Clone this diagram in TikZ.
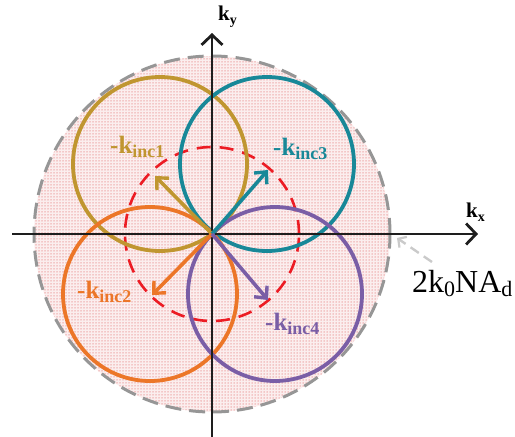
\documentclass[tikz,border=0pt]{standalone}
\usepackage{fontspec}
\setmainfont{Liberation Serif}
\usetikzlibrary{arrows.meta,patterns.meta}
\definecolor{cgold}{RGB}{192,150,48}
\definecolor{cteal}{RGB}{24,136,152}
\definecolor{corange}{RGB}{236,118,40}
\definecolor{cpurple}{RGB}{122,94,166}
\definecolor{cred}{RGB}{236,28,36}
\definecolor{cgray}{RGB}{150,150,150}
\definecolor{cfill}{RGB}{251,238,238}
\definecolor{cdot}{RGB}{236,160,160}
\definecolor{caxis}{RGB}{30,30,30}
\tikzset{
  ring/.style={line width=3.8pt},
  vec/.style={line width=3.6pt, -{Straight Barb[length=9pt,width=17pt,line width=3.4pt]}},
  axis/.style={line width=2.8pt, color=caxis, -{Straight Barb[length=10pt,width=21pt,line width=2.8pt]}},
  lbl/.style={font=\bfseries\fontsize{25}{25}\selectfont, inner sep=0pt, anchor=base west},
}
\newcommand{\sub}[1]{\raisebox{-4pt}{\fontsize{18}{18}\selectfont #1}}
\begin{document}
\begin{tikzpicture}[x=1pt,y=-1pt]
\useasboundingbox (0,0) rectangle (515,437);
\coordinate (O) at (212,234);
\fill[cfill] (O) circle[radius=178pt];
\fill[pattern={Dots[distance=3pt,radius=0.75pt]}, pattern color=cdot] (O) circle[radius=178pt];
\draw[cgray, line width=3pt, dash pattern=on 16pt off 8pt] (O) circle[radius=178pt];
\draw[cred, line width=2.6pt, dash pattern=on 14pt off 9pt] (O) circle[radius=87pt];
\draw[ring, cgold] (160,164) circle[radius=87pt];
\draw[ring, cteal] (267,164) circle[radius=87pt];
\draw[ring, corange] (150,294) circle[radius=87pt];
\draw[ring, cpurple] (275,294) circle[radius=87pt];
% axes
\coordinate (xl) at (12,234);
\coordinate (xr) at (478,234);
\coordinate (yb) at (212,437);
\coordinate (yt) at (212,33);
\draw[axis] (xl) -- (xr);
\draw[axis] (yb) -- (yt);
% vectors
\coordinate (t1) at (155,176);
\coordinate (t3) at (268,170);
\coordinate (t2) at (152,295);
\coordinate (t4) at (268,300);
\draw[vec, cgold] (O) -- (t1);
\draw[vec, cteal] (O) -- (t3);
\draw[vec, corange] (O) -- (t2);
\draw[vec, cpurple] (O) -- (t4);
% labels
\node[lbl, cgold] (l1) at (110,153) {-k\sub{inc1}};
\node[lbl, cteal] (l3) at (273,155) {-k\sub{inc3}};
\node[lbl, corange] (l2) at (77,298) {-k\sub{inc2}};
\node[lbl, cpurple] (l4) at (265,330) {-k\sub{inc4}};
\node[font=\bfseries\fontsize{21}{21}\selectfont, inner sep=0pt, anchor=base west] (kx) at (466,217) {k\raisebox{-4pt}{\fontsize{14}{14}\selectfont x}};
\node[font=\bfseries\fontsize{21}{21}\selectfont, inner sep=0pt, anchor=base west] (ky) at (218,20) {k\raisebox{-4pt}{\fontsize{14}{14}\selectfont y}};
\node[font=\fontsize{32}{32}\selectfont, inner sep=0pt, anchor=base west] (na) at (412,292) {2k\raisebox{-4pt}{\fontsize{22}{22}\selectfont 0}NA\raisebox{-4pt}{\fontsize{22}{22}\selectfont d}};
\coordinate (gs) at (432,262);
\coordinate (ge) at (397,238);
\draw[cgray!50, line width=2.4pt, dash pattern=on 10pt off 6pt, -{Straight Barb[length=6pt,width=13pt,line width=2.2pt]}] (gs) -- (ge);
\end{tikzpicture}
\end{document}
